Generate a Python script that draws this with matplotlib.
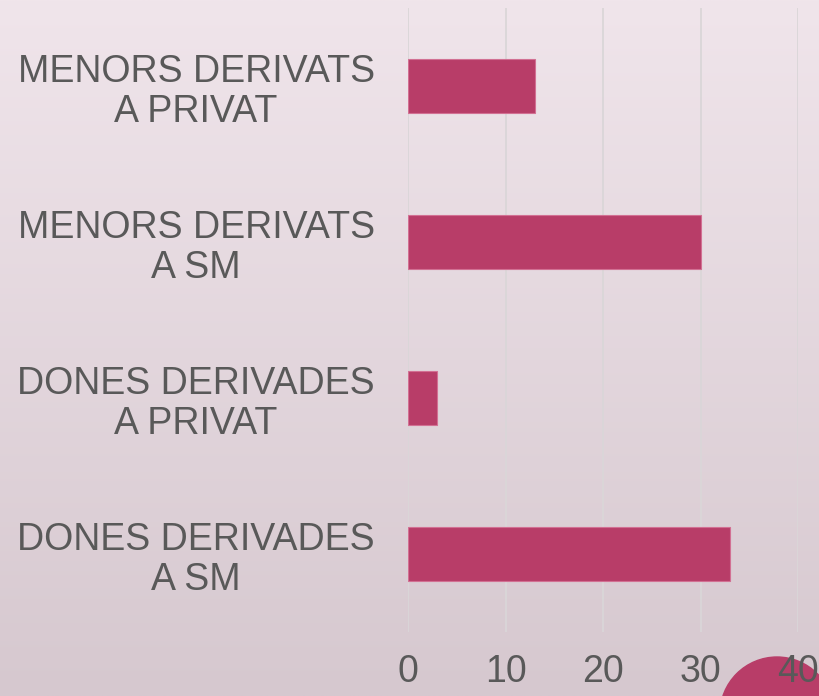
import numpy as np
import matplotlib
matplotlib.use("Agg")
import matplotlib.pyplot as plt
from matplotlib.patches import Circle
from matplotlib.transforms import IdentityTransform

# data
categories = ["MENORS DERIVATS\nA PRIVAT", "MENORS DERIVATS\nA SM",
              "DONES DERIVADES\nA PRIVAT", "DONES DERIVADES\nA SM"]
values = [13, 30, 3, 33]
xticks = [0, 10, 20, 30, 40]

plt.rcParams['font.family'] = ['Liberation Sans', 'DejaVu Sans']

W, H = 819, 696
fig = plt.figure(figsize=(W / 100, H / 100), dpi=100)

# gradient background
bg = fig.add_axes([0, 0, 1, 1], zorder=-1)
top = np.array([240, 229, 235]) / 255
bot = np.array([214, 200, 207]) / 255
t = np.linspace(0, 1, 256)[:, None, None]
grad = top * (1 - t) + bot * t
grad = np.repeat(grad, 2, axis=1)
bg.imshow(grad, aspect='auto', extent=[0, 1, 0, 1])
bg.axis('off')
# decorative circle bottom right
bg.add_patch(Circle((777, H - 714), 57, transform=IdentityTransform(),
                    color='#B83D68', clip_on=False))

ax = fig.add_axes([408 / W, 1 - 632 / H, 390 / W, 624 / H])
ax.patch.set_alpha(0)
y = np.arange(len(categories))
ax.barh(y, values, height=0.35, color='#B83D68', edgecolor='#D27093',
        linewidth=0.8, zorder=3)
ax.set_ylim(3.5, -0.5)
ax.set_xlim(0, 40)
ax.set_xticks(xticks)
ax.set_yticks(y)
ax.set_yticklabels(categories, ha='right', multialignment='center',
                   linespacing=1.15)
ax.tick_params(axis='y', length=0, pad=24, labelsize=27, labelcolor='#595959')
ax.tick_params(axis='x', length=0, pad=16, labelsize=27, labelcolor='#595959')
for s in ax.spines.values():
    s.set_visible(False)
ax.grid(axis='x', color='#DAD6D8', linewidth=1.3, zorder=0)

fig.savefig("out.png", dpi=100)
